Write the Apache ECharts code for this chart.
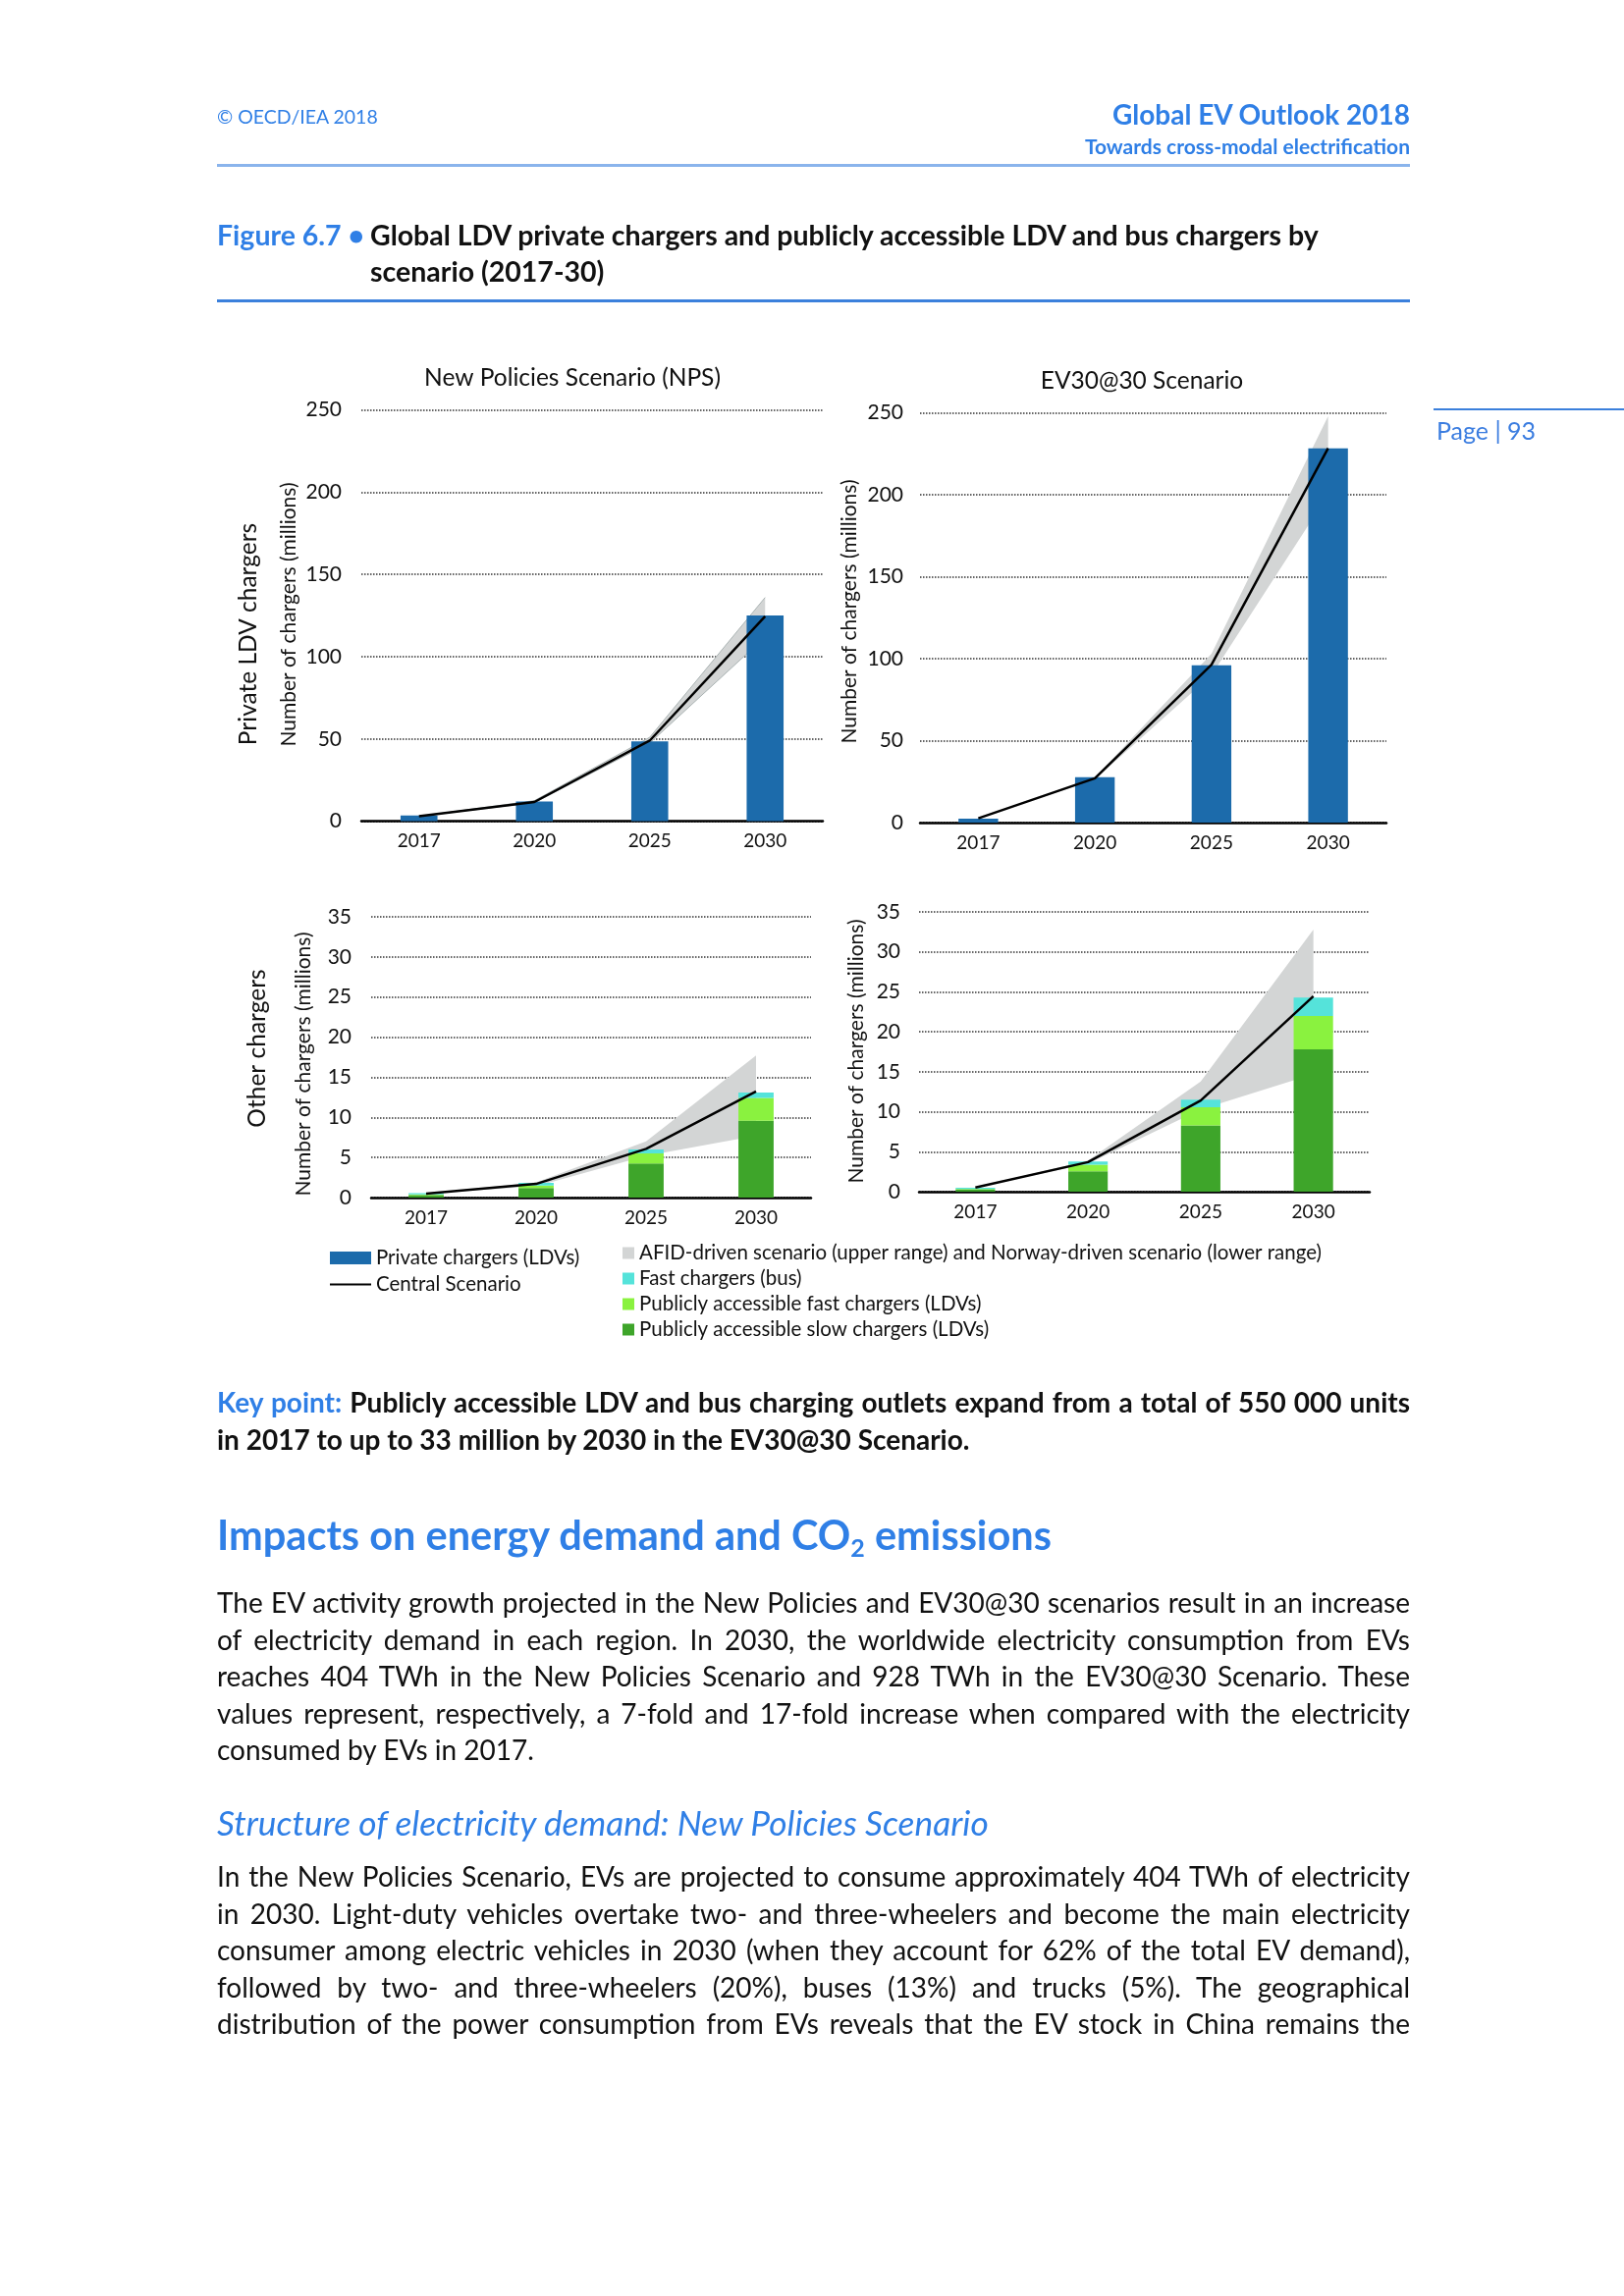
<!DOCTYPE html>
<html>
<head>
<meta charset="utf-8">
<script src="https://cdn.jsdelivr.net/npm/echarts@6/dist/echarts.min.js"></script>
<style>
  html, body { margin:0; padding:0; background:#fff; }
  body { width:1654px; height:2339px; position:relative; overflow:hidden; font-family: Lato, "Open Sans", sans-serif; color:#111; }
  .t { position:absolute; white-space:nowrap; }
  .blue { color:#2f7fe6; }
  .rule { position:absolute; }
  .para { position:absolute; left:221px; width:1215px; font-size:28px; line-height:37.5px; }
  .para div { white-space:nowrap; }
  .para .j { text-align:justify; text-align-last:justify; }
  #chart { position:absolute; left:0; top:0; width:1654px; height:2339px; }
</style>
</head>
<body>
<div id="chart"></div>

<div class="t blue" style="left:221px; top:106px; font-size:19.5px; line-height:26px;">© OECD/IEA 2018</div>
<div class="t blue" style="right:218px; top:98px; font-size:28px; line-height:36px; font-weight:700;">Global EV Outlook 2018</div>
<div class="t blue" style="right:218px; top:135px; font-size:21px; line-height:28px; font-weight:700;">Towards cross-modal electrification</div>
<div class="rule" style="left:221px; top:167px; width:1215px; height:3px; background:#8ab4ec;"></div>

<div class="rule" style="left:1460px; top:416px; width:194px; height:2px; background:#3b80dc;"></div>
<div class="t" style="left:1463px; top:423px; font-size:25px; line-height:30px; color:#3b7de0;">Page | 93</div>

<div class="t blue" style="left:221px; top:221px; font-size:28.5px; line-height:37px; font-weight:700;">Figure 6.7 •</div>
<div class="t" style="left:377px; top:221px; font-size:28.5px; line-height:37px; font-weight:700;">Global LDV private chargers and publicly accessible LDV and bus chargers by<br>scenario (2017-30)</div>
<div class="rule" style="left:221px; top:305px; width:1215px; height:2.5px; background:#3b80dc;"></div>

<div class="para" style="top:1410px; font-weight:700;">
  <div class="j"><span class="blue">Key point:</span> Publicly accessible LDV and bus charging outlets expand from a total of 550 000 units</div>
  <div>in 2017 to up to 33 million by 2030 in the EV30@30 Scenario.</div>
</div>

<div class="t blue" style="left:221px; top:1538px; font-size:41.5px; line-height:50px; font-weight:700;">Impacts on energy demand and CO<sub style="font-size:25px; vertical-align:-7px; line-height:0;">2</sub> emissions</div>

<div class="para" style="top:1614px;">
  <div class="j">The EV activity growth projected in the New Policies and EV30@30 scenarios result in an increase</div>
  <div class="j">of electricity demand in each region. In 2030, the worldwide electricity consumption from EVs</div>
  <div class="j">reaches 404 TWh in the New Policies Scenario and 928 TWh in the EV30@30 Scenario. These</div>
  <div class="j">values represent, respectively, a 7-fold and 17-fold increase when compared with the electricity</div>
  <div>consumed by EVs in 2017.</div>
</div>

<div class="t blue" style="left:221px; top:1835px; font-size:35.3px; line-height:44px; font-style:italic;">Structure of electricity demand: New Policies Scenario</div>

<div class="para" style="top:1893px;">
  <div class="j">In the New Policies Scenario, EVs are projected to consume approximately 404 TWh of electricity</div>
  <div class="j">in 2030. Light-duty vehicles overtake two- and three-wheelers and become the main electricity</div>
  <div class="j">consumer among electric vehicles in 2030 (when they account for 62% of the total EV demand),</div>
  <div class="j">followed by two- and three-wheelers (20%), buses (13%) and trucks (5%). The geographical</div>
  <div class="j">distribution of the power consumption from EVs reveals that the EV stock in China remains the</div>
</div>

<script>
// ---------- DATA ----------
const years = ['2017', '2020', '2025', '2030'];

// Private LDV chargers (millions)
const npsPrivate        = [3.5, 12, 48.5, 125];
const npsPrivateCentral = [3, 11.7, 49, 124.5];
const npsPrivateUpper   = [3, 12.5, 51, 136];
const npsPrivateLower   = [3, 11.3, 47.5, 112];

const evPrivate         = [2.4, 27.7, 96, 228.4];
const evPrivateCentral  = [2.6, 27, 96.4, 228.4];
const evPrivateUpper    = [2.6, 27.6, 103, 248];
const evPrivateLower    = [2.6, 26.4, 90, 200];

// Other chargers (millions)
const npsSlow    = [0.3, 1.18, 4.24, 9.58];
const npsFastLdv = [0.1, 0.32, 1.26, 2.85];
const npsBus     = [0.15, 0.33, 0.5, 0.65];
const npsOtherCentral = [0.5, 1.7, 6.07, 13.24];
const npsOtherUpper   = [0.5, 1.9, 7.0, 17.7];
const npsOtherLower   = [0.5, 1.4, 5.2, 7.7];

const evSlow    = [0.25, 2.55, 8.3, 17.8];
const evFastLdv = [0.1, 0.82, 2.26, 4.18];
const evBus     = [0.15, 0.41, 0.94, 2.32];
const evOtherCentral = [0.53, 3.7, 11.4, 24.45];
const evOtherUpper   = [0.53, 3.9, 13.8, 32.8];
const evOtherLower   = [0.53, 3.5, 10.3, 14.7];

const privateTicks = { min: 0, max: 250, interval: 50 };
const otherTicks   = { min: 0, max: 35, interval: 5 };

const N_PRIV = 'Private chargers (LDVs)';
const N_CENT = 'Central Scenario';
const N_BAND = 'AFID-driven scenario (upper range) and Norway-driven scenario (lower range)';
const N_BUS  = 'Fast chargers (bus)';
const N_FAST = 'Publicly accessible fast chargers (LDVs)';
const N_SLOW = 'Publicly accessible slow chargers (LDVs)';

// ---------- STYLE ----------
const FONT = 'Lato';
const C_BLUE = '#1c6bab', C_SLOW = '#3ea52a', C_FAST = '#8af23f', C_BUS = '#55e3da', C_BAND = '#d3d5d5';

const grids = [
  { left: 368, top: 417.6, width: 470, height: 419 },
  { left: 937, top: 420.6, width: 475, height: 417.4 },
  { left: 378, top: 934, width: 448, height: 286 },
  { left: 936, top: 929, width: 459, height: 285 }
];
const yLabelMargins = [20, 17, 20, 19];

function xAxis(i) {
  return {
    type: 'category', gridIndex: i, data: years,
    axisLine: { lineStyle: { color: '#000', width: 2.5 } },
    axisTick: { show: false },
    axisLabel: { color: '#111', fontFamily: FONT, fontSize: 19, margin: 11 }
  };
}
function yAxis(i, t) {
  return {
    type: 'value', gridIndex: i, min: t.min, max: t.max, interval: t.interval,
    axisLine: { show: false }, axisTick: { show: false },
    axisLabel: { color: '#111', fontFamily: FONT, fontSize: 21, margin: yLabelMargins[i] },
    splitLine: { lineStyle: { color: '#333', width: 1.5, type: [1.5, 1.5] } }
  };
}
function bandSeries(i, lower, upper, edge) {
  const diff = upper.map((u, k) => u - lower[k]);
  const edgeStyle = edge ? { color: '#aab3b3', width: 1 } : { width: 0, opacity: 0 };
  return [
    { type: 'line', name: 'band-base-' + i, xAxisIndex: i, yAxisIndex: i, stack: 'band' + i,
      data: lower, symbol: 'none', lineStyle: edgeStyle, z: 1, silent: true },
    { type: 'line', name: N_BAND, xAxisIndex: i, yAxisIndex: i, stack: 'band' + i,
      data: diff, symbol: 'none', lineStyle: edgeStyle, itemStyle: { color: C_BAND },
      areaStyle: { color: C_BAND, opacity: 1 }, z: 1, silent: true }
  ];
}
function centralSeries(i, data) {
  return { type: 'line', name: N_CENT, xAxisIndex: i, yAxisIndex: i, data: data,
    symbol: 'none', showSymbol: false, lineStyle: { color: '#000', width: 2.5 }, itemStyle: { color: '#000' }, z: 5 };
}
function stackBar(i, name, data, color, w) {
  return { type: 'bar', name: name, xAxisIndex: i, yAxisIndex: i, stack: 'pub' + i, data: data,
    barWidth: w, itemStyle: { color: color }, z: 3 };
}

const series = [].concat(
  bandSeries(0, npsPrivateLower, npsPrivateUpper, true),
  [{ type: 'bar', name: N_PRIV, xAxisIndex: 0, yAxisIndex: 0, data: npsPrivate, barWidth: '32%', itemStyle: { color: C_BLUE }, z: 3 }],
  [centralSeries(0, npsPrivateCentral)],

  bandSeries(1, evPrivateLower, evPrivateUpper, false),
  [{ type: 'bar', name: N_PRIV, xAxisIndex: 1, yAxisIndex: 1, data: evPrivate, barWidth: '34%', itemStyle: { color: C_BLUE }, z: 3 }],
  [centralSeries(1, evPrivateCentral)],

  bandSeries(2, npsOtherLower, npsOtherUpper, false),
  [stackBar(2, N_SLOW, npsSlow, C_SLOW, '32%'), stackBar(2, N_FAST, npsFastLdv, C_FAST, '32%'), stackBar(2, N_BUS, npsBus, C_BUS, '32%')],
  [centralSeries(2, npsOtherCentral)],

  bandSeries(3, evOtherLower, evOtherUpper, false),
  [stackBar(3, N_SLOW, evSlow, C_SLOW, '35%'), stackBar(3, N_FAST, evFastLdv, C_FAST, '35%'), stackBar(3, N_BUS, evBus, C_BUS, '35%')],
  [centralSeries(3, evOtherCentral)]
);

function vText(text, x, y, size) {
  return { type: 'text', x: x, y: y, rotation: Math.PI / 2, silent: true,
    style: { text: text, fontFamily: FONT, fontSize: size, fill: '#111', align: 'center', verticalAlign: 'middle' } };
}
function hText(text, x, y, size) {
  return { type: 'text', x: x, y: y, silent: true,
    style: { text: text, fontFamily: FONT, fontSize: size, fill: '#111', align: 'center', verticalAlign: 'middle' } };
}

const legendText = { color: '#111', fontFamily: FONT, fontSize: 20.5, lineHeight: 21 };

const option = {
  animation: false,
  grid: grids,
  xAxis: [xAxis(0), xAxis(1), xAxis(2), xAxis(3)],
  yAxis: [yAxis(0, privateTicks), yAxis(1, privateTicks), yAxis(2, otherTicks), yAxis(3, otherTicks)],
  legend: [
    { left: 331, top: 1266, orient: 'vertical', itemGap: 6, itemWidth: 42, itemHeight: 13,
      selectedMode: false, textStyle: legendText,
      data: [ { name: N_PRIV, icon: 'rect' },
              { name: N_CENT, icon: 'path://M0,0 H40 V2 H0 Z', itemStyle: { color: '#000' } } ] },
    { left: 629, top: 1261, orient: 'vertical', itemGap: 5, itemWidth: 12, itemHeight: 12,
      selectedMode: false, textStyle: legendText,
      data: [ { name: N_BAND, icon: 'rect', itemStyle: { color: C_BAND } },
              { name: N_BUS, icon: 'rect' }, { name: N_FAST, icon: 'rect' }, { name: N_SLOW, icon: 'rect' } ] }
  ],
  graphic: [
    hText('New Policies Scenario (NPS)', 583, 385, 24.5),
    hText('EV30@30 Scenario', 1163, 388, 24.5),
    vText('Private LDV chargers', 253, 646, 24.5),
    vText('Number of chargers (millions)', 294, 626, 21),
    vText('Number of chargers (millions)', 865, 623, 21),
    vText('Other chargers', 262, 1068, 24.5),
    vText('Number of chargers (millions)', 309, 1084, 21),
    vText('Number of chargers (millions)', 872, 1071, 21)
  ],
  series: series
};

const chart = echarts.init(document.getElementById('chart'), null, { renderer: 'canvas' });
chart.setOption(option);
</script>
</body>
</html>
